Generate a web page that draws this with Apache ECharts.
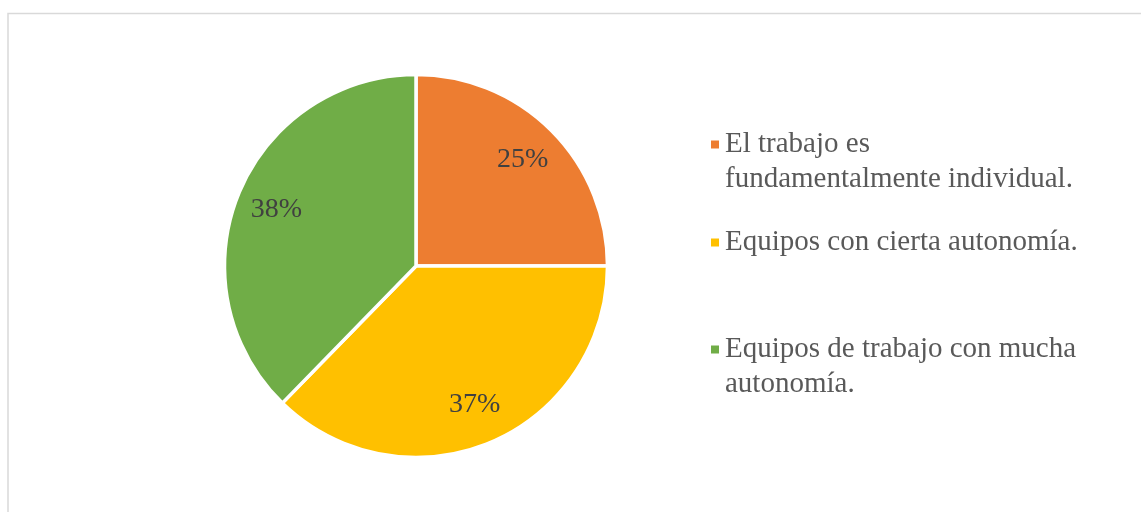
<!DOCTYPE html>
<html>
<head>
<meta charset="utf-8">
<script src="https://cdn.jsdelivr.net/npm/echarts@6/dist/echarts.min.js"></script>
<style>
  html, body { margin: 0; padding: 0; background: #fff; }
  #chart { width: 1141px; height: 512px; }
</style>
</head>
<body>
<div id="chart"></div>
<script>
// categorias y valores
var categories = [
    'El trabajo es\nfundamentalmente individual.',
    'Equipos con cierta autonomía.',
    'Equipos de trabajo con mucha\nautonomía.'
];
var values = [25, 37.3, 37.7];
var colors = ['#ED7D31', '#FFC000', '#70AD47'];

var pieData = categories.map(function (name, i) {
    return { name: name, value: values[i], itemStyle: { color: colors[i] } };
});

var serif = '"Liberation Serif", "Times New Roman", serif';

// una leyenda por elemento; una linea vacia arriba deja el icono junto a la primera linea
function legendItem(name, top) {
    var twoLines = name.indexOf('\n') >= 0;
    return {
        data: [name],
        left: 709,
        top: top,
        orient: 'vertical',
        padding: 0,
        itemWidth: 10,
        itemHeight: 10,
        icon: 'rect',
        selectedMode: false,
        formatter: function (n) {
            return twoLines ? '\n' + n : n;
        },
        textStyle: {
            fontFamily: serif,
            fontSize: 29,
            lineHeight: 35,
            color: '#595959'
        }
    };
}

var option = {
    backgroundColor: '#FFFFFF',
    animation: false,
    graphic: [{
        type: 'rect',
        silent: true,
        shape: { x: 8, y: 13.5, width: 1200, height: 600 },
        style: { fill: 'none', stroke: '#D9D9D9', lineWidth: 1.5 }
    }],
    legend: [
        legendItem(categories[0], 92),
        legendItem(categories[1], 225),
        legendItem(categories[2], 297)
    ],
    series: [
        {
            type: 'pie',
            center: [416, 266],
            radius: [0, 191.5],
            startAngle: 90,
            clockwise: true,
            silent: true,
            itemStyle: { borderColor: '#FFFFFF', borderWidth: 3.5 },
            label: { show: false },
            labelLine: { show: false },
            data: pieData
        },
        {
            // capa transparente solo para colocar las etiquetas mas hacia fuera
            type: 'pie',
            center: [416, 266],
            radius: [104, 191.5],
            startAngle: 90,
            clockwise: true,
            silent: true,
            legendHoverLink: false,
            itemStyle: { color: 'transparent', borderWidth: 0 },
            label: {
                show: true,
                position: 'inside',
                formatter: function (p) {
                    return Math.round(p.percent) + '%';
                },
                fontFamily: serif,
                fontSize: 28,
                color: '#404040'
            },
            labelLine: { show: false },
            data: categories.map(function (name, i) {
                return { name: name, value: values[i] };
            })
        }
    ]
};

var myChart = echarts.init(document.getElementById('chart'));
myChart.setOption(option);
</script>
</body>
</html>
